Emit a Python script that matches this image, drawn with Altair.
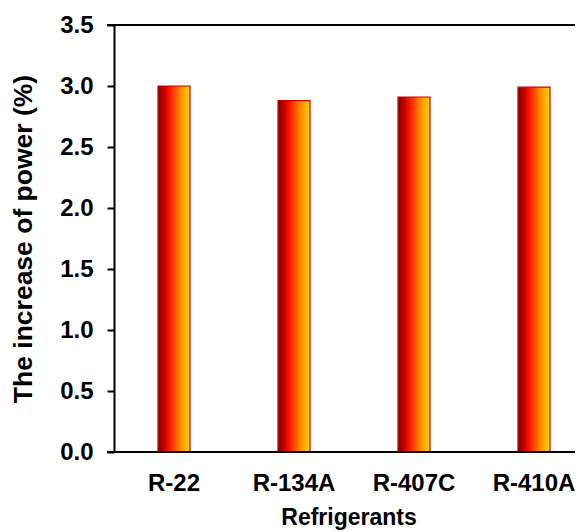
import altair as alt
import pandas as pd

refrigerants = ["R-22", "R-134A", "R-407C", "R-410A"]
power_increase = [3.00, 2.88, 2.91, 2.99]
y_ticks = [0.0, 0.5, 1.0, 1.5, 2.0, 2.5, 3.0, 3.5]

df = pd.DataFrame({"Refrigerant": refrigerants, "Increase": power_increase})

W, H = 461, 427
FONT = "Liberation Sans"

gradient = alt.Gradient(
    gradient="linear",
    x1=0, x2=1, y1=0, y2=0,
    stops=[
        alt.GradientStop(color="#6e0000", offset=0.0),
        alt.GradientStop(color="#d40000", offset=0.22),
        alt.GradientStop(color="#ff2000", offset=0.4),
        alt.GradientStop(color="#ff8c00", offset=0.7),
        alt.GradientStop(color="#ffd400", offset=1.0),
    ],
)

x_enc = alt.X(
    "Refrigerant:N",
    sort=refrigerants,
    scale=alt.Scale(range=[0, 480], paddingInner=0.7333, paddingOuter=0.3667),
    axis=alt.Axis(
        title="Refrigerants",
        domain=False,
        ticks=False,
        labelAngle=0,
        labelFont=FONT,
        labelFontSize=24,
        labelFontWeight="bold",
        labelColor="black",
        labelPadding=19,
        titleFont=FONT,
        titleFontSize=23,
        titleFontWeight="bold",
        titleColor="black",
        titlePadding=11,
        titleX=234.5,
    ),
)

y_enc = alt.Y(
    "Increase:Q",
    scale=alt.Scale(domain=[0, 3.5], nice=False),
    axis=alt.Axis(
        title="The increase of power (%)",
        values=y_ticks,
        format=".1f",
        grid=False,
        domainColor="black",
        domainWidth=2,
        tickColor="black",
        tickWidth=2,
        tickSize=7,
        labelFont=FONT,
        labelFontSize=24,
        labelFontWeight="bold",
        labelColor="black",
        labelPadding=14,
        titleFont=FONT,
        titleFontSize=26.5,
        titleFontWeight="bold",
        titleColor="black",
        titlePadding=22,
    ),
)

bars = alt.Chart(df).mark_bar(
    fill=gradient, stroke="#c80000", strokeWidth=1.2
).encode(x=x_enc, y=y_enc)

frame_df = pd.DataFrame({"yv": [0.0, 3.5]})
frame = alt.Chart(frame_df).mark_rule(color="black", strokeWidth=2).encode(
    y=alt.Y("yv:Q"),
    x=alt.value(-7),
    x2=alt.value(W),
)

chart = alt.layer(bars, frame).properties(
    width=W,
    height=H,
    autosize=alt.AutoSizeParams(type="none"),
    padding={"left": 106, "top": 17, "right": 0, "bottom": 78},
).configure_view(stroke=None)

chart.save("out.html", embed_options={"renderer": "svg", "actions": False})
